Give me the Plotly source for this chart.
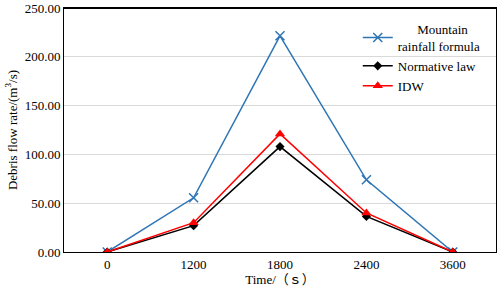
import plotly.graph_objects as go

times = ["0", "1200", "1800", "2400", "3600"]
mountain = [0, 55.5, 221.5, 74, 0]
normative = [0, 27, 108, 36.5, 0]
idw = [0, 30, 121, 40, 0]
yticks = [0, 50, 100, 150, 200, 250]

font = "Liberation Serif, Times New Roman, Noto Sans CJK SC, serif"
fig = go.Figure()
fig.add_trace(go.Scatter(x=times, y=mountain, mode="lines+markers",
    name="      Mountain<br>rainfall formula",
    line=dict(color="#2E75B6", width=1.5),
    marker=dict(symbol="x-thin", size=9, line=dict(color="#2E75B6", width=1.5))))
fig.add_trace(go.Scatter(x=times, y=normative, mode="lines+markers",
    name="Normative law",
    line=dict(color="black", width=1.5),
    marker=dict(symbol="diamond", size=7, color="black")))
fig.add_trace(go.Scatter(x=times, y=idw, mode="lines+markers",
    name="IDW",
    line=dict(color="red", width=1.5),
    marker=dict(symbol="triangle-up", size=9, color="red")))

fig.update_layout(
    width=498, height=290,
    margin=dict(l=64, r=2, t=8, b=38, autoexpand=False),
    plot_bgcolor="white", paper_bgcolor="white",
    font=dict(family=font, size=13, color="black"),
    showlegend=True,
    legend=dict(x=0.68, y=0.975, xanchor="left", yanchor="top",
                bgcolor="rgba(255,255,255,0)", font=dict(size=13),
                tracegroupgap=2, itemwidth=30),
    xaxis=dict(type="category", range=[-0.5, 4.5], automargin=False,
               title=dict(text="Time/（ｓ）", font=dict(size=13), standoff=4),
               showline=True, linecolor="black", linewidth=1, mirror=True,
               showgrid=False, ticks="", tickfont=dict(size=13)),
    yaxis=dict(title=dict(text="Debris flow rate/(m<sup>3</sup>/s)", font=dict(size=13), standoff=4),
               range=[0, 250], tickvals=yticks, tickformat=".2f", automargin=False,
               ticklabeloverflow="allow",
               showline=True, linecolor="black", linewidth=1, mirror=True,
               showgrid=True, gridcolor="#D9D9D9", gridwidth=1, zeroline=False,
               ticks="", tickfont=dict(size=13)),
    shapes=[dict(type="line", xref="paper", yref="paper", x0=0, x1=1, y0=1, y1=1,
                 line=dict(color="black", width=2), layer="above")],
)
fig.write_html("out.html", config={"displayModeBar": False},
               post_script="document.body.style.margin='0';document.body.style.overflow='hidden';window.scrollTo(0,0);")
